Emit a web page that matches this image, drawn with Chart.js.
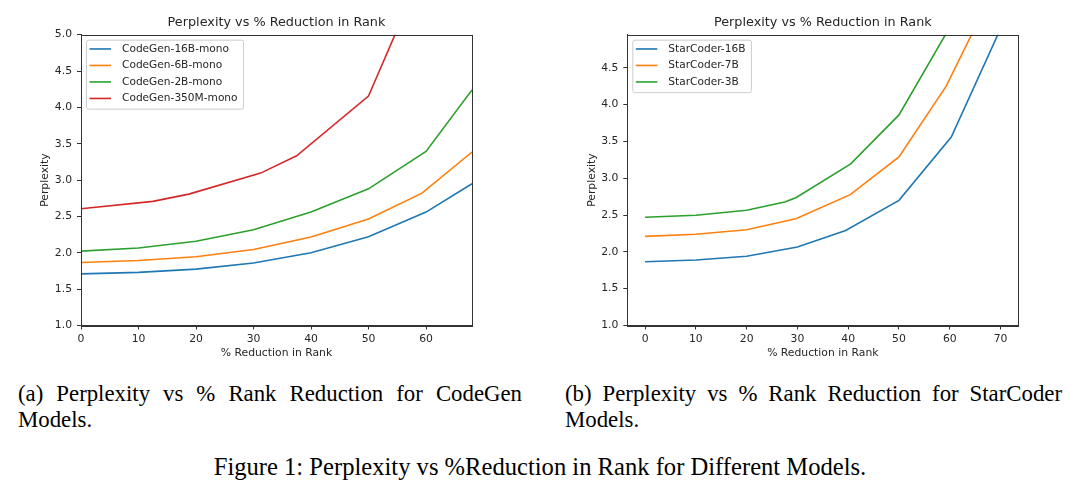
<!DOCTYPE html>
<html>
<head>
<meta charset="utf-8">
<script src="https://cdn.jsdelivr.net/npm/chart.js@4.4.1/dist/chart.umd.min.js"></script>
<style>
  html, body { margin: 0; padding: 0; background: #fff; }
  body { width: 1080px; height: 499px; position: relative; overflow: hidden; }
  canvas { position: absolute; top: 0; }
  #codegenChart { left: 0; }
  #starcoderChart { left: 540px; }
  .subcap {
    position: absolute; top: 381px;
    font-family: "Liberation Serif", "Times New Roman", serif;
    font-size: 22.8px; line-height: 26px; color: #000;
    text-align: justify;
  }
  #capA { left: 18px; width: 504px; }
  #capB { left: 565px; width: 497px; }
  #figcap {
    position: absolute; top: 452px; left: 0; width: 1080px;
    text-align: center;
    font-family: "Liberation Serif", "Times New Roman", serif;
    font-size: 24.6px; line-height: 30px; color: #000;
  }
</style>
</head>
<body>
<canvas id="codegenChart" width="540" height="370"></canvas>
<canvas id="starcoderChart" width="540" height="370"></canvas>
<div class="subcap" id="capA">(a) Perplexity vs % Rank Reduction for CodeGen Models.</div>
<div class="subcap" id="capB">(b) Perplexity vs % Rank Reduction for StarCoder Models.</div>
<div id="figcap">Figure 1: Perplexity vs %Reduction in Rank for Different Models.</div>
<script>
// CodeGen (left panel)
const cg16Rank = [0, 10, 20, 30, 40, 50, 60, 68];
const cg16Ppl = [1.71, 1.73, 1.775, 1.86, 2.0, 2.22, 2.56, 2.95];
const cg6Rank = [0, 10, 20, 30, 40, 50, 59.3, 68];
const cg6Ppl = [1.867, 1.895, 1.945, 2.046, 2.216, 2.465, 2.82, 3.385];
const cg2Rank = [0, 10, 20, 30, 40, 50, 60, 68];
const cg2Ppl = [2.023, 2.066, 2.158, 2.317, 2.562, 2.88, 3.395, 4.24];
const cg350Rank = [0, 12.5, 18.75, 31.25, 37.5, 50, 56.25];
const cg350Ppl = [2.605, 2.707, 2.807, 3.096, 3.334, 4.155, 5.3];

// StarCoder (right panel)
const sc16Rank = [0, 10, 20, 30, 39.5, 50, 60.3, 70];
const sc16Ppl = [1.865, 1.89, 1.94, 2.065, 2.29, 2.70, 3.56, 5.03];
const sc7Rank = [0, 10, 20, 29.7, 40.4, 50, 59.3, 70];
const sc7Ppl = [2.21, 2.24, 2.30, 2.45, 2.777, 3.29, 4.25, 5.75];
const sc3Rank = [0, 10, 20, 27.5, 29.7, 40.5, 50, 60];
const sc3Ppl = [2.47, 2.497, 2.565, 2.677, 2.736, 3.195, 3.86, 5.05];

const titleText = 'Perplexity vs % Reduction in Rank';
const xTitle = '% Reduction in Rank';
const yTitle = 'Perplexity';

const font = '"DejaVu Sans", Verdana, sans-serif';
const ink = '#262626';
const spine = '#333';

function pairs(xs, ys) {
  return xs.map((x, i) => ({ x: x, y: ys[i] }));
}

function series(label, xs, ys, color) {
  return {
    label: label,
    data: pairs(xs, ys),
    borderColor: color,
    backgroundColor: color,
    borderWidth: 1.6,
    pointRadius: 0,
    tension: 0,
    fill: false,
    clip: 0
  };
}

// box around the axes + matplotlib style legend in upper left
const frameLegend = {
  id: 'frameLegend',
  afterDraw(chart) {
    const { ctx, chartArea: a } = chart;
    const sets = chart.data.datasets;
    ctx.save();
    ctx.strokeStyle = spine;
    ctx.lineWidth = 1;
    ctx.strokeRect(Math.round(a.left) + 0.5, Math.round(a.top) + 0.5,
      Math.round(a.right - a.left), Math.round(a.bottom - a.top));

    ctx.font = '10.6px ' + font;
    const textW = Math.max(...sets.map(d => ctx.measureText(d.label).width));
    const bx = a.left + 5.5, by = a.top + 5.5;
    const bw = 41 - 5.5 + textW + 6;
    const bh = 8.8 + (sets.length - 1) * 16.5 + 10.7;
    ctx.beginPath();
    ctx.roundRect(bx, by, bw, bh, 2);
    ctx.fillStyle = 'rgba(255,255,255,0.8)';
    ctx.fill();
    ctx.strokeStyle = '#cccccc';
    ctx.stroke();

    ctx.textBaseline = 'middle';
    sets.forEach((d, i) => {
      const cy = a.top + 14.3 + i * 16.5;
      ctx.beginPath();
      ctx.moveTo(a.left + 8.5, cy);
      ctx.lineTo(a.left + 30, cy);
      ctx.strokeStyle = d.borderColor;
      ctx.lineWidth = 1.6;
      ctx.stroke();
      ctx.fillStyle = ink;
      ctx.fillText(d.label, a.left + 41, cy);
    });
    ctx.restore();
  }
};

function makeChart(id, datasets, opt) {
  return new Chart(document.getElementById(id), {
    type: 'line',
    data: { datasets: datasets },
    plugins: [frameLegend],
    options: {
      responsive: false,
      animation: false,
      layout: { padding: { left: 0, right: opt.padRight, top: 0, bottom: 0 } },
      plugins: {
        legend: { display: false },
        tooltip: { enabled: false },
        title: {
          display: true,
          text: titleText,
          fullSize: false,
          color: ink,
          font: { family: font, size: 12.8, weight: 'normal' },
          padding: { top: 15, bottom: 4.3 }
        }
      },
      scales: {
        x: {
          type: 'linear',
          min: opt.xMin,
          max: opt.xMax,
          afterFit: s => { s.height = 44.5; },
          border: { display: true, color: spine, width: 1 },
          grid: { display: true, drawOnChartArea: false, drawTicks: true, tickLength: 4, color: spine },
          ticks: {
            stepSize: 10,
            includeBounds: false,
            autoSkip: false,
            maxRotation: 0,
            padding: 3,
            color: ink,
            font: { family: font, size: 10.8 }
          },
          title: {
            display: true,
            text: xTitle,
            color: ink,
            font: { family: font, size: 10.8 },
            padding: { top: 0, bottom: 10.8 }
          }
        },
        y: {
          min: 1,
          max: opt.yMax,
          afterFit: s => { s.width = opt.yWidth; },
          border: { display: true, color: spine, width: 1 },
          grid: { display: true, drawOnChartArea: false, drawTicks: true, tickLength: 4, color: spine },
          ticks: {
            stepSize: 0.5,
            includeBounds: false,
            autoSkip: false,
            padding: 5,
            color: ink,
            font: { family: font, size: 10.8 },
            callback: v => v.toFixed(1)
          },
          title: {
            display: true,
            text: yTitle,
            color: ink,
            font: { family: font, size: 10.8 },
            padding: { top: opt.yTitleX - 6.5, bottom: 0 }
          }
        }
      }
    }
  });
}

makeChart('codegenChart', [
  series('CodeGen-16B-mono', cg16Rank, cg16Ppl, '#1f77b4'),
  series('CodeGen-6B-mono', cg6Rank, cg6Ppl, '#ff7f0e'),
  series('CodeGen-2B-mono', cg2Rank, cg2Ppl, '#2ca02c'),
  series('CodeGen-350M-mono', cg350Rank, cg350Ppl, '#d62728')
], { xMin: 0, xMax: 68, yMax: 5, yWidth: 81, padRight: 68, yTitleX: 45 });

makeChart('starcoderChart', [
  series('StarCoder-16B', sc16Rank, sc16Ppl, '#1f77b4'),
  series('StarCoder-7B', sc7Rank, sc7Ppl, '#ff7f0e'),
  series('StarCoder-3B', sc3Rank, sc3Ppl, '#2ca02c')
], { xMin: -3.5, xMax: 73.5, yMax: 4.95, yWidth: 87.3, padRight: 61.7, yTitleX: 52 });
</script>
</body>
</html>
